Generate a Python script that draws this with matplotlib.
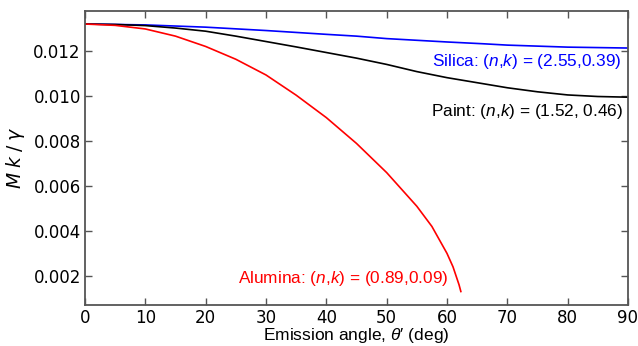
import numpy as np
import matplotlib
matplotlib.use("Agg")
import matplotlib.pyplot as plt

plt.rcParams["mathtext.fontset"] = "custom"
plt.rcParams["mathtext.rm"] = "Liberation Sans"
plt.rcParams["mathtext.it"] = "Liberation Sans:italic"

# curves (angle in deg, M k / gamma)
silica_x = [0, 10, 20, 30, 40, 45, 50, 60, 66, 70, 80, 90]
silica_y = [0.01322, 0.01318, 0.01308, 0.01293, 0.01276, 0.01268,
            0.01257, 0.01242, 0.01234, 0.01228, 0.01219, 0.01215]

paint_x = [0, 5, 10, 15, 20, 25, 30, 35, 40, 45, 50, 55, 60, 66, 70, 75, 80, 85, 90]
paint_y = [0.01322, 0.01320, 0.01315, 0.01304, 0.01290, 0.01268, 0.01244,
           0.01220, 0.01195, 0.01170, 0.01142, 0.01110, 0.01083, 0.01056,
           0.01038, 0.01020, 0.01006, 0.00999, 0.00996]

alumina_x = [0, 5, 10, 15, 20, 25, 30, 35, 40, 45, 50, 55, 57.5, 60, 61, 62, 62.3]
alumina_y = [0.01322, 0.01316, 0.01300, 0.01268, 0.01222, 0.01165, 0.01095,
             0.01005, 0.00905, 0.00790, 0.00660, 0.00510, 0.00420, 0.00300,
             0.00240, 0.00160, 0.00130]

labels = ["Silica: $(n{,}k)$ = (2.55,0.39)",
          "Paint: $(n{,}k)$ = (1.52, 0.46)",
          "Alumina: $(n{,}k)$ = (0.89,0.09)"]

fig = plt.figure(figsize=(6.38, 3.46), dpi=100)
ax = fig.add_axes([0.1332, 0.1185, 0.8511, 0.8497])

ax.plot(silica_x, silica_y, color="blue", lw=1.2)
ax.plot(paint_x, paint_y, color="black", lw=1.2)
ax.plot(alumina_x, alumina_y, color="red", lw=1.2)

ax.text(88.9, 0.01156, labels[0], color="blue", ha="right", va="center",
        fontsize=12.4, family="Liberation Sans")
ax.text(89.2, 0.00933, labels[1], color="black", ha="right", va="center",
        fontsize=12.4, family="Liberation Sans")
ax.text(60.2, 0.00187, labels[2], color="red", ha="right", va="center",
        fontsize=12.4, family="Liberation Sans")

ax.set_xlim(0, 90)
ax.set_ylim(0.0007, 0.0138)
ax.set_xticks(np.arange(0, 91, 10))
ax.set_yticks([0.002, 0.004, 0.006, 0.008, 0.010, 0.012])
ax.set_yticklabels(["0.002", "0.004", "0.006", "0.008", "0.010", "0.012"])
ax.tick_params(direction="in", top=True, right=True, length=5, width=1,
               color="#555555", labelsize=12, pad=3)
for s in ax.spines.values():
    s.set_color("#555555")
    s.set_linewidth(1.3)

ax.set_xlabel("Emission angle, $\\theta$\u2032 (deg)", fontsize=12.5,
              family="Liberation Sans", va="top")
ax.xaxis.set_label_coords(0.5, -0.07)
ylab = ax.set_ylabel(r"$M\;k\;/\;\gamma$", fontsize=13.5)
ylab.set_math_fontfamily("dejavusans")
ax.yaxis.set_label_coords(-0.107, 0.5)

fig.savefig("out.png", dpi=100)
